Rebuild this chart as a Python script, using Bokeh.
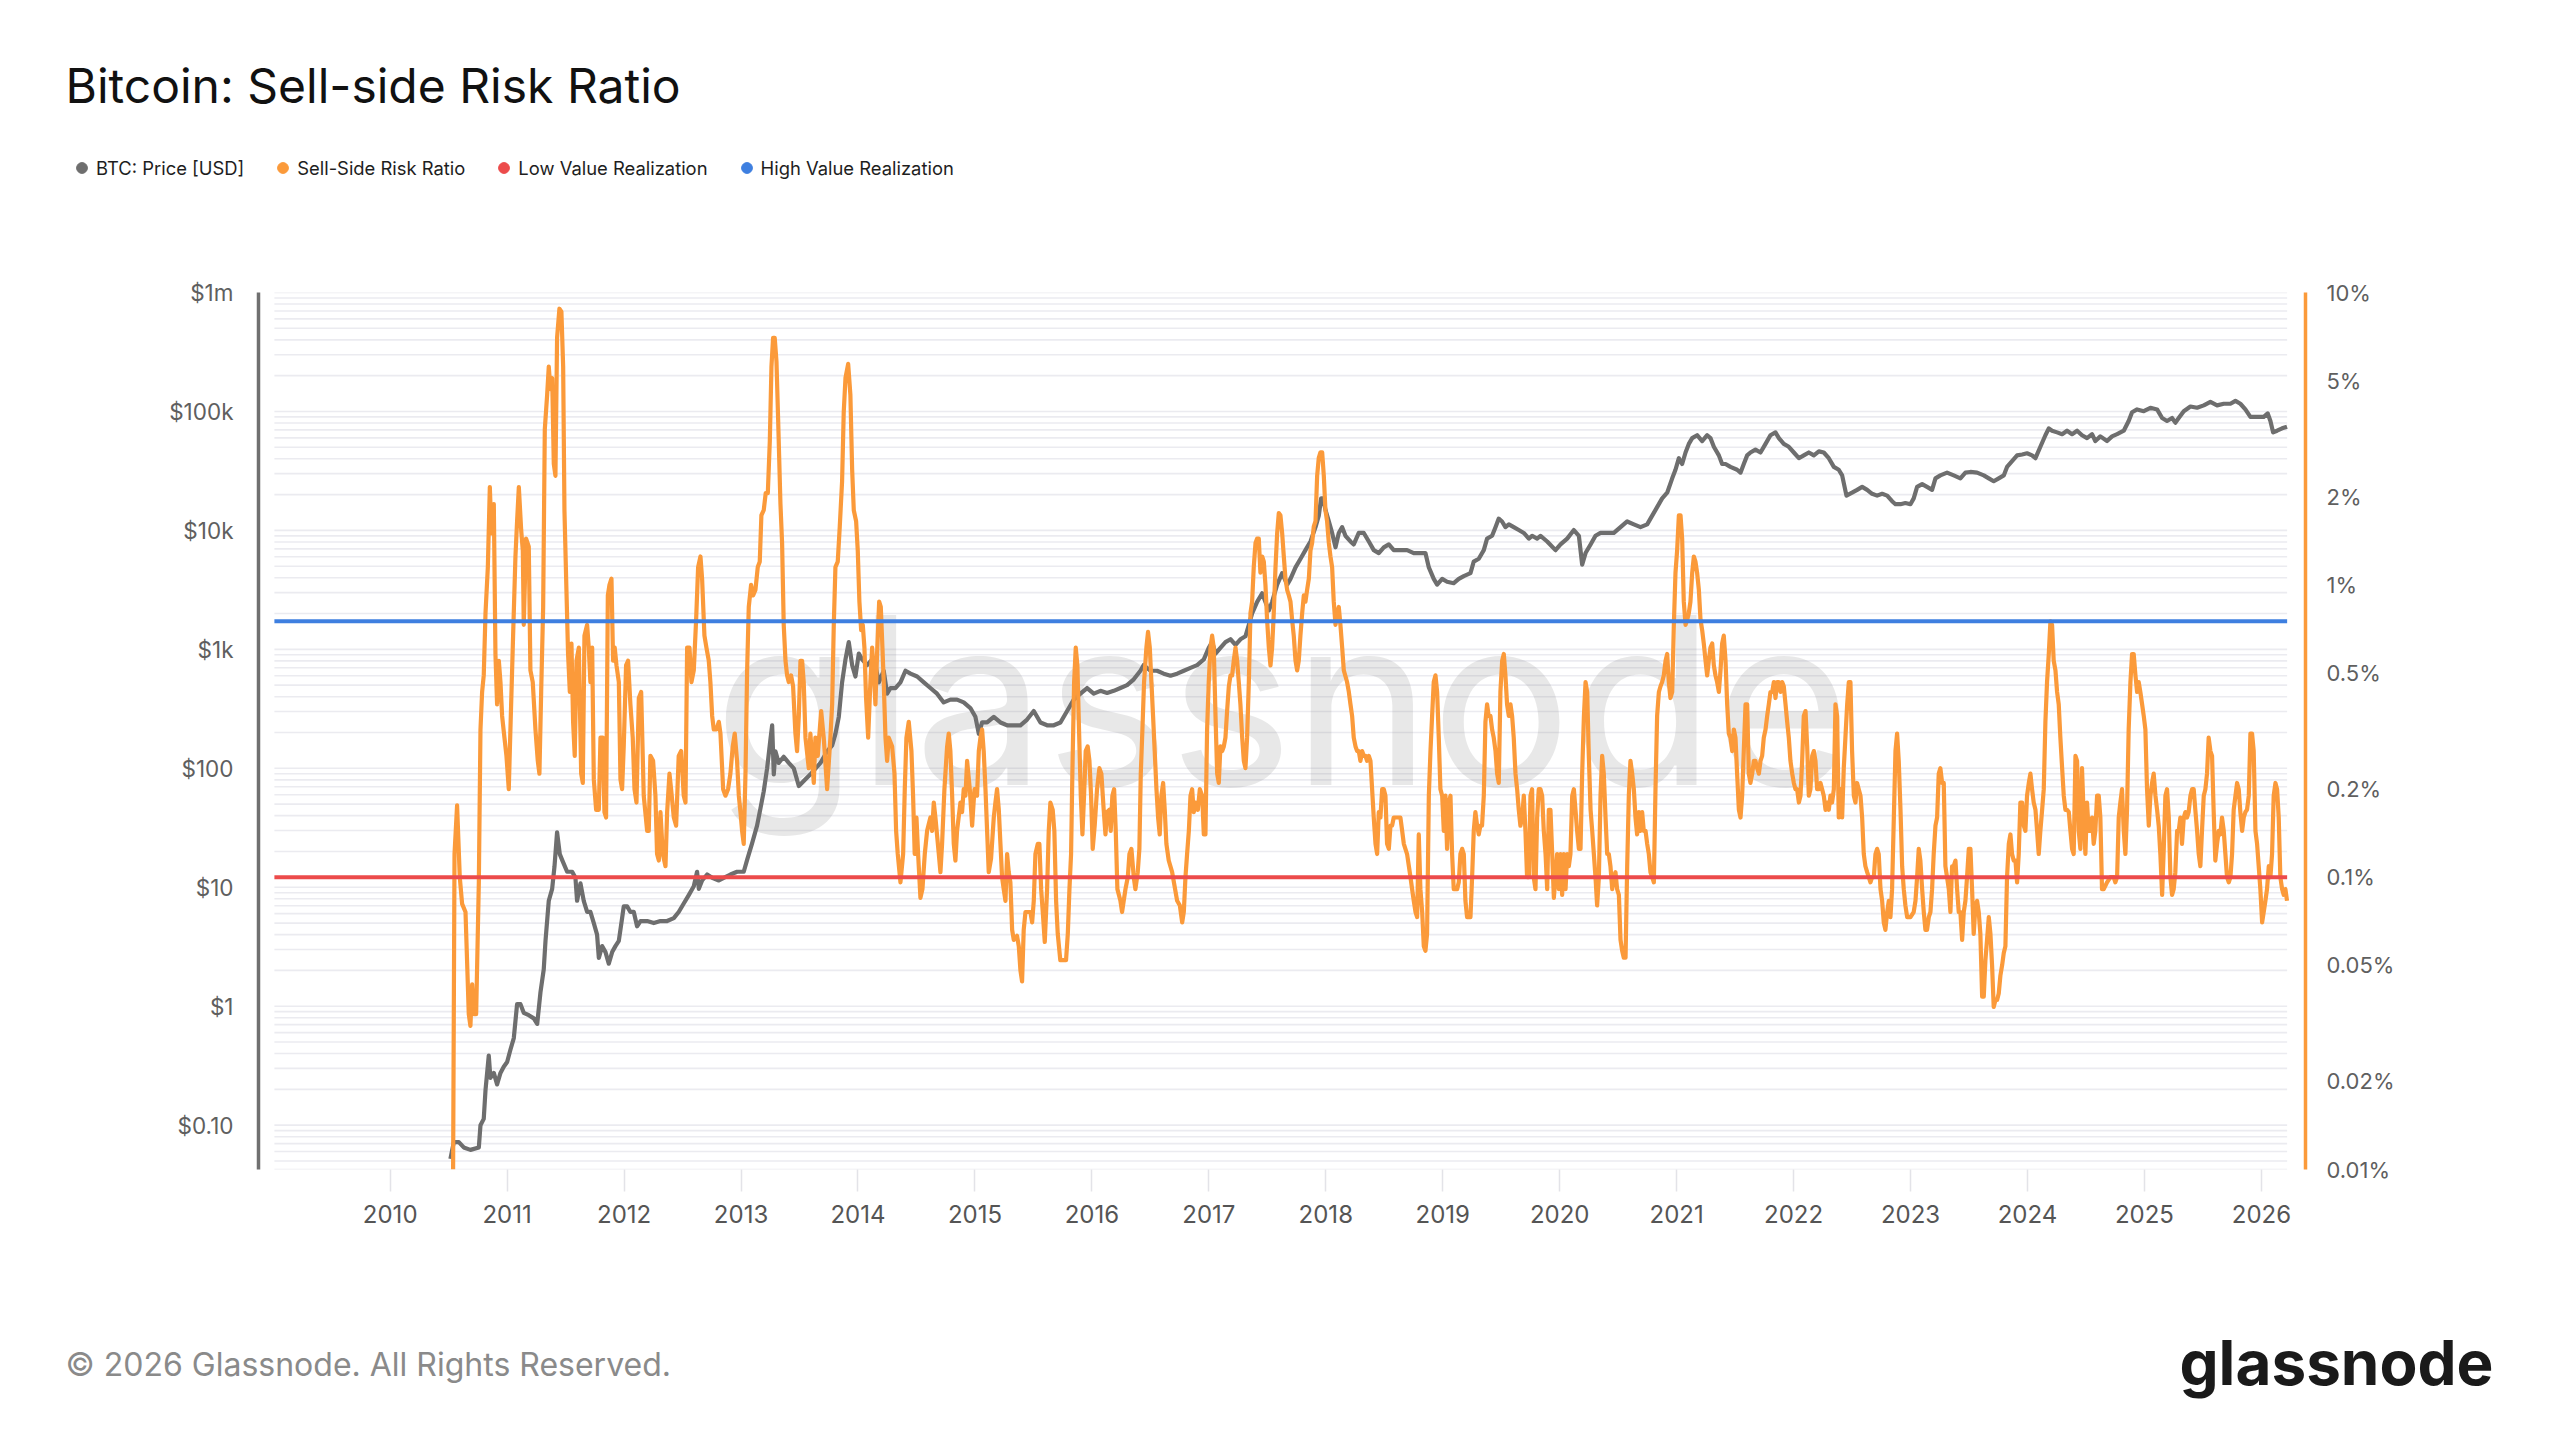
from bokeh.plotting import figure
from bokeh.layouts import column
from bokeh.models import Range1d, LogAxis, LogScale, FixedTicker, Legend, LegendItem
from bokeh.core.properties import value
from bokeh.embed import file_html
from bokeh.resources import INLINE

# ---------------- data ----------------
TITLE = "Bitcoin: Sell-side Risk Ratio"
FOOTER = "\u00a9 2026 Glassnode. All Rights Reserved."
BRAND = "glassnode"
SERIES_NAMES = ["BTC: Price [USD]", "Sell-Side Risk Ratio", "Low Value Realization", "High Value Realization"]
YEARS = list(range(2010, 2027))
PRICE_TICKS = [0.1, 1, 10, 100, 1000, 10000, 100000, 1000000]
PRICE_LABELS = ["$0.10", "$1", "$10", "$100", "$1k", "$10k", "$100k", "$1m"]
SSR_TICKS = [0.01, 0.02, 0.05, 0.1, 0.2, 0.5, 1, 2, 5, 10]
SSR_LABELS = ["0.01%", "0.02%", "0.05%", "0.1%", "0.2%", "0.5%", "1%", "2%", "5%", "10%"]
LOW_VALUE_REALIZATION = 0.1    # percent
HIGH_VALUE_REALIZATION = 0.75  # percent
DATE_SPAN = [2009.01, 2026.22]  # decimal years covered by the chart

PRICE_DATES = [
    2010.515, 2010.544, 2010.587, 2010.629, 2010.686, 2010.758, 2010.772, 2010.800, 2010.815, 2010.843,
    2010.857, 2010.886, 2010.914, 2010.943, 2010.971, 2011.000, 2011.028, 2011.057, 2011.085, 2011.114,
    2011.142, 2011.185, 2011.228, 2011.257, 2011.285, 2011.313, 2011.328, 2011.356, 2011.385, 2011.405,
    2011.427, 2011.450, 2011.470, 2011.513, 2011.556, 2011.584, 2011.598, 2011.627, 2011.655, 2011.684,
    2011.712, 2011.741, 2011.769, 2011.784, 2011.812, 2011.841, 2011.869, 2011.898, 2011.926, 2011.955,
    2011.983, 2011.997, 2012.026, 2012.054, 2012.083, 2012.111, 2012.140, 2012.197, 2012.254, 2012.311,
    2012.368, 2012.425, 2012.467, 2012.510, 2012.553, 2012.596, 2012.624, 2012.639, 2012.667, 2012.710,
    2012.753, 2012.810, 2012.852, 2012.909, 2012.966, 2013.023, 2013.052, 2013.095, 2013.137, 2013.166,
    2013.194, 2013.223, 2013.251, 2013.266, 2013.280, 2013.294, 2013.322, 2013.365, 2013.408, 2013.451,
    2013.494, 2013.593, 2013.679, 2013.736, 2013.779, 2013.807, 2013.836, 2013.864, 2013.893, 2013.921,
    2013.950, 2013.978, 2014.007, 2014.035, 2014.078, 2014.121, 2014.149, 2014.178, 2014.220, 2014.249,
    2014.278, 2014.320, 2014.363, 2014.406, 2014.449, 2014.506, 2014.563, 2014.619, 2014.676, 2014.733,
    2014.790, 2014.847, 2014.904, 2014.961, 2015.004, 2015.033, 2015.061, 2015.104, 2015.161, 2015.218,
    2015.275, 2015.332, 2015.389, 2015.446, 2015.503, 2015.560, 2015.617, 2015.674, 2015.731, 2015.788,
    2015.845, 2015.902, 2015.959, 2016.016, 2016.073, 2016.130, 2016.187, 2016.244, 2016.301, 2016.358,
    2016.415, 2016.443, 2016.500, 2016.557, 2016.614, 2016.672, 2016.729, 2016.786, 2016.843, 2016.900,
    2016.957, 2016.999, 2017.028, 2017.057, 2017.099, 2017.142, 2017.185, 2017.228, 2017.270, 2017.313,
    2017.342, 2017.370, 2017.413, 2017.456, 2017.484, 2017.513, 2017.541, 2017.584, 2017.627, 2017.670,
    2017.698, 2017.741, 2017.784, 2017.826, 2017.869, 2017.912, 2017.940, 2017.960, 2017.977, 2017.997,
    2018.026, 2018.054, 2018.083, 2018.111, 2018.140, 2018.168, 2018.211, 2018.239, 2018.282, 2018.325,
    2018.368, 2018.410, 2018.453, 2018.496, 2018.539, 2018.581, 2018.638, 2018.695, 2018.752, 2018.852,
    2018.881, 2018.923, 2018.952, 2018.995, 2019.037, 2019.094, 2019.137, 2019.180, 2019.237, 2019.265,
    2019.308, 2019.351, 2019.379, 2019.422, 2019.451, 2019.479, 2019.507, 2019.536, 2019.565, 2019.607,
    2019.650, 2019.693, 2019.736, 2019.764, 2019.807, 2019.836, 2019.893, 2019.964, 2020.007, 2020.064,
    2020.121, 2020.164, 2020.192, 2020.221, 2020.264, 2020.306, 2020.349, 2020.406, 2020.463, 2020.520,
    2020.577, 2020.634, 2020.691, 2020.748, 2020.791, 2020.833, 2020.876, 2020.919, 2020.962, 2020.990,
    2021.019, 2021.047, 2021.076, 2021.104, 2021.133, 2021.175, 2021.218, 2021.261, 2021.289, 2021.318,
    2021.361, 2021.389, 2021.418, 2021.460, 2021.517, 2021.546, 2021.574, 2021.603, 2021.631, 2021.674,
    2021.717, 2021.760, 2021.802, 2021.845, 2021.874, 2021.916, 2021.959, 2022.002, 2022.045, 2022.087,
    2022.130, 2022.173, 2022.216, 2022.258, 2022.301, 2022.344, 2022.386, 2022.415, 2022.452, 2022.500,
    2022.543, 2022.586, 2022.629, 2022.671, 2022.714, 2022.757, 2022.800, 2022.842, 2022.871, 2022.914,
    2022.956, 2022.999, 2023.027, 2023.056, 2023.099, 2023.141, 2023.184, 2023.213, 2023.255, 2023.312,
    2023.369, 2023.426, 2023.469, 2023.512, 2023.569, 2023.626, 2023.669, 2023.711, 2023.754, 2023.797,
    2023.825, 2023.868, 2023.911, 2023.954, 2023.996, 2024.039, 2024.068, 2024.110, 2024.153, 2024.182,
    2024.210, 2024.253, 2024.296, 2024.338, 2024.381, 2024.424, 2024.466, 2024.509, 2024.552, 2024.580,
    2024.623, 2024.680, 2024.723, 2024.766, 2024.823, 2024.865, 2024.894, 2024.937, 2024.994, 2025.051,
    2025.108, 2025.151, 2025.193, 2025.236, 2025.264, 2025.293, 2025.336, 2025.393, 2025.450, 2025.507,
    2025.564, 2025.621, 2025.678, 2025.735, 2025.778, 2025.820, 2025.863, 2025.906, 2025.963, 2026.020,
    2026.054, 2026.077, 2026.100, 2026.134, 2026.177, 2026.219,
]
PRICE_USD = [
    0.052, 0.072, 0.072, 0.065, 0.062, 0.065, 0.10, 0.113, 0.197, 0.385,
    0.25, 0.275, 0.22, 0.275, 0.31, 0.34, 0.43, 0.54, 1.04, 1.04,
    0.88, 0.84, 0.79, 0.71, 1.31, 2.04, 3.55, 7.7, 9.7, 15,
    29, 19, 17, 13.5, 13.5, 12, 7.7, 10.8, 7.7, 6.2,
    6.2, 5.0, 4.0, 2.55, 3.2, 2.85, 2.28, 2.85, 3.2, 3.55,
    5.5, 6.9, 6.9, 6.2, 6.2, 4.7, 5.2, 5.2, 5.0, 5.2,
    5.2, 5.5, 6.2, 7.3, 8.6, 10.2, 13.5, 9.7, 11.4, 12.8,
    12, 11.4, 12, 12.8, 13.5, 13.5, 17, 23.5, 33, 46,
    64, 100, 174, 230, 89, 139, 111, 125, 111, 100,
    71, 89, 111, 139, 156, 195, 271, 528, 824, 1150,
    738, 591, 922, 824, 738, 824, 738, 528, 661, 424,
    473, 473, 528, 661, 625, 591, 528, 473, 424, 358,
    378, 378, 358, 321, 271, 195, 243, 243, 271, 243,
    230, 230, 230, 257, 303, 243, 230, 230, 243, 303,
    378, 424, 473, 424, 448, 430, 448, 473, 500, 560,
    661, 738, 661, 661, 625, 600, 625, 661, 698, 738,
    824, 1030, 1150, 922, 1030, 1150, 1216, 1089, 1216, 1288,
    1607, 2009, 2506, 2963, 2506, 2124, 2506, 3500, 4375, 3500,
    3911, 4886, 5775, 6823, 8070, 10650, 13300, 18580, 18580, 14860,
    11890, 9520, 7210, 9520, 10650, 9010, 8070, 7620, 9520, 9520,
    8070, 6823, 6450, 7210, 7620, 6823, 6823, 6823, 6450, 6450,
    4886, 3911, 3500, 3911, 3700, 3600, 3911, 4130, 4375, 5460,
    5775, 6823, 8530, 9010, 10650, 12570, 11890, 10650, 11250, 10650,
    10070, 9520, 8530, 9010, 8530, 9000, 8070, 6823, 7620, 8530,
    10070, 9010, 5160, 6450, 7620, 9010, 9520, 9520, 9520, 10650,
    11890, 11250, 10650, 11250, 13300, 15700, 18580, 20750, 27400, 32360,
    40460, 36150, 45190, 53350, 59700, 63100, 56400, 63100, 59700, 50470,
    42730, 36150, 36150, 34200, 32360, 30600, 36150, 42730, 45190, 47770,
    45190, 53350, 63100, 66700, 59700, 53350, 50470, 45190, 40460, 42730,
    45190, 42730, 46200, 45190, 40460, 34200, 32360, 29000, 19600, 20750,
    21900, 23200, 21900, 20300, 19600, 20300, 19600, 17600, 16600, 16600,
    17000, 16600, 18580, 23200, 24500, 23200, 21900, 27400, 29000, 30600,
    29000, 27400, 30600, 31000, 30600, 29000, 27400, 25900, 27400, 29000,
    34200, 38200, 42730, 43500, 44500, 42730, 40460, 50470, 63100, 72100,
    68900, 66700, 64400, 68900, 64400, 68900, 63100, 59700, 64400, 56400,
    61700, 56400, 61700, 64400, 68900, 83200, 98400, 104000, 100500, 107400,
    104000, 88100, 83200, 88100, 80500, 88100, 100500, 110000, 107400, 112500,
    120300, 112500, 116100, 116100, 122800, 116100, 104000, 90000, 90000, 90000,
    96200, 83200, 66700, 68900, 72100, 74500,
]

SSR_DATES = [
    2010.538, 2010.550, 2010.572, 2010.595, 2010.615, 2010.644, 2010.672, 2010.686, 2010.701, 2010.715,
    2010.735, 2010.758, 2010.772, 2010.786, 2010.800, 2010.815, 2010.835, 2010.852, 2010.866, 2010.886,
    2010.900, 2010.914, 2010.929, 2010.943, 2010.957, 2010.977, 2010.994, 2011.014, 2011.028, 2011.051,
    2011.071, 2011.085, 2011.100, 2011.120, 2011.134, 2011.142, 2011.162, 2011.185, 2011.199, 2011.219,
    2011.242, 2011.262, 2011.276, 2011.291, 2011.308, 2011.322, 2011.342, 2011.356, 2011.370, 2011.385,
    2011.399, 2011.413, 2011.427, 2011.447, 2011.464, 2011.479, 2011.490, 2011.507, 2011.521, 2011.536,
    2011.550, 2011.564, 2011.578, 2011.593, 2011.613, 2011.633, 2011.647, 2011.661, 2011.684, 2011.698,
    2011.712, 2011.727, 2011.741, 2011.761, 2011.784, 2011.798, 2011.818, 2011.832, 2011.846, 2011.861,
    2011.875, 2011.892, 2011.906, 2011.920, 2011.935, 2011.955, 2011.969, 2011.983, 2011.997, 2012.017,
    2012.034, 2012.054, 2012.074, 2012.089, 2012.106, 2012.126, 2012.146, 2012.168, 2012.197, 2012.211,
    2012.225, 2012.248, 2012.268, 2012.282, 2012.297, 2012.311, 2012.331, 2012.354, 2012.368, 2012.388,
    2012.402, 2012.425, 2012.445, 2012.467, 2012.488, 2012.510, 2012.525, 2012.539, 2012.559, 2012.576,
    2012.596, 2012.616, 2012.633, 2012.653, 2012.667, 2012.687, 2012.704, 2012.724, 2012.738, 2012.753,
    2012.767, 2012.790, 2012.810, 2012.824, 2012.847, 2012.867, 2012.889, 2012.909, 2012.929, 2012.946,
    2012.966, 2012.981, 2012.995, 2013.009, 2013.023, 2013.038, 2013.052, 2013.066, 2013.086, 2013.103,
    2013.123, 2013.143, 2013.160, 2013.174, 2013.194, 2013.211, 2013.229, 2013.246, 2013.260, 2013.274,
    2013.288, 2013.303, 2013.317, 2013.337, 2013.351, 2013.365, 2013.380, 2013.394, 2013.408, 2013.428,
    2013.445, 2013.465, 2013.479, 2013.494, 2013.508, 2013.522, 2013.536,
    2013.551, 2013.579, 2013.593, 2013.622, 2013.636, 2013.656, 2013.685, 2013.707, 2013.736, 2013.764,
    2013.779, 2013.793, 2013.807, 2013.827, 2013.844, 2013.864, 2013.878, 2013.893, 2013.916, 2013.935,
    2013.950, 2013.964, 2013.984, 2013.998, 2014.012, 2014.027, 2014.041, 2014.055, 2014.069, 2014.087,
    2014.106, 2014.121, 2014.135, 2014.149, 2014.163, 2014.181, 2014.195, 2014.209, 2014.220, 2014.235,
    2014.249, 2014.263, 2014.292, 2014.312, 2014.326, 2014.340, 2014.363, 2014.386, 2014.400, 2014.414,
    2014.434, 2014.457, 2014.471, 2014.485, 2014.500, 2014.514, 2014.534, 2014.551, 2014.571, 2014.591,
    2014.619, 2014.634, 2014.648, 2014.662, 2014.691, 2014.705, 2014.719, 2014.739, 2014.762, 2014.776,
    2014.790, 2014.805, 2014.819, 2014.833, 2014.847, 2014.876, 2014.890, 2014.904, 2014.919, 2014.933,
    2014.956, 2014.976, 2014.996, 2015.018, 2015.033, 2015.047, 2015.061, 2015.075, 2015.090, 2015.104,
    2015.118, 2015.138, 2015.161, 2015.175, 2015.189, 2015.204, 2015.218, 2015.232, 2015.246, 2015.261,
    2015.275, 2015.289, 2015.303, 2015.318, 2015.332, 2015.360, 2015.375, 2015.389, 2015.403, 2015.417,
    2015.432, 2015.474, 2015.489, 2015.503, 2015.517, 2015.537, 2015.551, 2015.566, 2015.580, 2015.597,
    2015.617, 2015.631, 2015.645, 2015.665, 2015.679, 2015.694, 2015.708, 2015.730, 2015.779, 2015.794,
    2015.808, 2015.822, 2015.833, 2015.848, 2015.862, 2015.876, 2015.890, 2015.905, 2015.919, 2015.933,
    2015.947, 2015.964, 2015.979, 2015.993, 2016.007, 2016.024, 2016.044, 2016.064, 2016.081, 2016.101,
    2016.116, 2016.130, 2016.150, 2016.161, 2016.175, 2016.190, 2016.204, 2016.218, 2016.244, 2016.258,
    2016.287, 2016.307, 2016.321, 2016.338, 2016.358, 2016.372, 2016.392, 2016.406, 2016.418, 2016.432,
    2016.446, 2016.466, 2016.480, 2016.495, 2016.509, 2016.523, 2016.537, 2016.552, 2016.566, 2016.580,
    2016.594, 2016.609, 2016.623, 2016.637, 2016.657, 2016.686,
    2016.729, 2016.752, 2016.772, 2016.786, 2016.800, 2016.814, 2016.829, 2016.843, 2016.857, 2016.871,
    2016.886, 2016.906, 2016.923, 2016.943, 2016.957, 2016.971, 2016.985, 2016.999, 2017.014, 2017.028,
    2017.042, 2017.057, 2017.071, 2017.085, 2017.099, 2017.114, 2017.128, 2017.142, 2017.156, 2017.171,
    2017.185, 2017.199, 2017.213, 2017.228, 2017.242, 2017.256, 2017.270, 2017.285, 2017.299, 2017.313,
    2017.327, 2017.342, 2017.356, 2017.370, 2017.384, 2017.399, 2017.413, 2017.427, 2017.441, 2017.456,
    2017.470, 2017.484, 2017.498, 2017.513, 2017.527, 2017.541, 2017.555, 2017.570, 2017.584, 2017.598,
    2017.612, 2017.627, 2017.641, 2017.655, 2017.670, 2017.684, 2017.698, 2017.712, 2017.726, 2017.741,
    2017.755, 2017.769, 2017.783, 2017.798, 2017.812, 2017.826, 2017.840, 2017.855, 2017.869, 2017.883,
    2017.897, 2017.912, 2017.926, 2017.940, 2017.954, 2017.969, 2017.983, 2017.997, 2018.011, 2018.026,
    2018.040, 2018.054, 2018.068, 2018.083, 2018.097, 2018.111, 2018.125, 2018.140, 2018.154, 2018.182,
    2018.197, 2018.211, 2018.225, 2018.239, 2018.254, 2018.268, 2018.282, 2018.296, 2018.311, 2018.325,
    2018.339, 2018.353, 2018.368, 2018.382, 2018.396, 2018.410, 2018.425, 2018.439, 2018.453, 2018.467,
    2018.482, 2018.496, 2018.510, 2018.524, 2018.539, 2018.553, 2018.567, 2018.581, 2018.596, 2018.610,
    2018.624, 2018.638, 2018.653, 2018.667, 2018.695, 2018.724, 2018.738, 2018.752, 2018.767, 2018.781,
    2018.795, 2018.809, 2018.824, 2018.838, 2018.852, 2018.866, 2018.881, 2018.895, 2018.909, 2018.923,
    2018.938, 2018.952, 2018.966, 2018.980, 2018.995, 2019.009, 2019.023, 2019.037, 2019.052, 2019.066,
    2019.080, 2019.094, 2019.123, 2019.137, 2019.151, 2019.166, 2019.180, 2019.194, 2019.208, 2019.237,
    2019.251, 2019.265, 2019.279, 2019.294, 2019.308, 2019.322, 2019.336, 2019.351, 2019.365, 2019.379,
    2019.393, 2019.408, 2019.422, 2019.436, 2019.451, 2019.465, 2019.479, 2019.493, 2019.508, 2019.522,
    2019.536, 2019.550, 2019.565, 2019.579, 2019.593, 2019.607, 2019.622, 2019.636, 2019.650, 2019.664,
    2019.679, 2019.693, 2019.707, 2019.721, 2019.736, 2019.750, 2019.764, 2019.778, 2019.793, 2019.807,
    2019.821, 2019.835,
    2019.850, 2019.864, 2019.879, 2019.893, 2019.907, 2019.921, 2019.936, 2019.950, 2019.964, 2019.978,
    2019.993, 2020.007, 2020.021, 2020.035, 2020.050, 2020.064, 2020.078, 2020.092, 2020.107, 2020.121,
    2020.135, 2020.149, 2020.164, 2020.178, 2020.192, 2020.207, 2020.221, 2020.235, 2020.249, 2020.264,
    2020.278, 2020.292, 2020.306, 2020.320, 2020.335, 2020.349, 2020.363, 2020.377, 2020.392, 2020.406,
    2020.420, 2020.434, 2020.449, 2020.463, 2020.477, 2020.491, 2020.506, 2020.520, 2020.534, 2020.548,
    2020.563, 2020.577, 2020.591, 2020.605, 2020.620, 2020.634, 2020.648, 2020.662, 2020.677, 2020.691,
    2020.705, 2020.719, 2020.734, 2020.748, 2020.762, 2020.776, 2020.791, 2020.805, 2020.819, 2020.833,
    2020.848, 2020.862, 2020.876, 2020.890, 2020.905, 2020.919, 2020.933, 2020.947, 2020.962, 2020.976,
    2020.990, 2021.004, 2021.019, 2021.033, 2021.047, 2021.061, 2021.076, 2021.090, 2021.104, 2021.118,
    2021.133, 2021.147, 2021.161, 2021.175, 2021.190, 2021.204, 2021.218, 2021.232, 2021.247, 2021.261,
    2021.275, 2021.289, 2021.304, 2021.318, 2021.332, 2021.346, 2021.361, 2021.375, 2021.389, 2021.403,
    2021.418, 2021.432, 2021.446, 2021.460, 2021.475, 2021.489, 2021.503, 2021.517, 2021.532, 2021.546,
    2021.560, 2021.574, 2021.589, 2021.603, 2021.617, 2021.631, 2021.646, 2021.660, 2021.674, 2021.688,
    2021.703, 2021.717, 2021.731, 2021.745, 2021.760, 2021.774, 2021.788, 2021.802, 2021.817, 2021.831,
    2021.845, 2021.859, 2021.874, 2021.888, 2021.902, 2021.916, 2021.931, 2021.945, 2021.959, 2021.973,
    2021.988, 2022.002, 2022.016, 2022.030, 2022.045, 2022.059, 2022.073, 2022.087, 2022.102, 2022.116,
    2022.130, 2022.144, 2022.159, 2022.173, 2022.187, 2022.201, 2022.216, 2022.230, 2022.244, 2022.258,
    2022.273, 2022.287, 2022.301, 2022.315, 2022.329, 2022.344, 2022.358, 2022.372, 2022.386, 2022.401,
    2022.415, 2022.429, 2022.443, 2022.458, 2022.472, 2022.486, 2022.500, 2022.515, 2022.529, 2022.543,
    2022.557, 2022.572, 2022.586, 2022.600, 2022.614, 2022.629, 2022.643, 2022.657, 2022.671, 2022.686,
    2022.700, 2022.714, 2022.728, 2022.743, 2022.757, 2022.771, 2022.785, 2022.800, 2022.814, 2022.828,
    2022.842, 2022.857, 2022.871, 2022.885, 2022.899, 2022.914, 2022.928, 2022.942, 2022.956, 2022.971,
    2022.985,
    2022.999, 2023.027, 2023.042, 2023.056, 2023.070, 2023.084, 2023.099, 2023.113, 2023.127, 2023.141,
    2023.156, 2023.170, 2023.184, 2023.198, 2023.213, 2023.227, 2023.241, 2023.255, 2023.270, 2023.284,
    2023.298, 2023.312, 2023.327, 2023.341, 2023.355, 2023.369, 2023.384, 2023.398, 2023.412, 2023.426,
    2023.441, 2023.455, 2023.469, 2023.483, 2023.498, 2023.512, 2023.526, 2023.540, 2023.555, 2023.569,
    2023.583, 2023.597, 2023.612, 2023.626, 2023.640, 2023.654, 2023.669, 2023.683, 2023.697, 2023.711,
    2023.726, 2023.740, 2023.754, 2023.768, 2023.783, 2023.797, 2023.811, 2023.825, 2023.840, 2023.854,
    2023.868, 2023.882, 2023.897, 2023.911, 2023.925, 2023.939, 2023.954, 2023.968, 2023.982, 2023.996,
    2024.011, 2024.025, 2024.039, 2024.053, 2024.068, 2024.082, 2024.096, 2024.110, 2024.125, 2024.139,
    2024.153, 2024.167, 2024.182, 2024.196, 2024.210, 2024.224, 2024.239, 2024.253, 2024.267, 2024.281,
    2024.296, 2024.310, 2024.324, 2024.338, 2024.353, 2024.367, 2024.381, 2024.395, 2024.410, 2024.424,
    2024.438, 2024.452, 2024.466, 2024.481, 2024.495, 2024.509, 2024.523, 2024.538, 2024.552, 2024.566,
    2024.580, 2024.595, 2024.609, 2024.623, 2024.637, 2024.652, 2024.680, 2024.709, 2024.737, 2024.751,
    2024.766, 2024.780, 2024.794, 2024.808, 2024.823, 2024.837, 2024.851, 2024.865, 2024.880, 2024.894,
    2024.908, 2024.923, 2024.937, 2024.951, 2024.965, 2024.980, 2024.994, 2025.008, 2025.022, 2025.037,
    2025.051, 2025.065, 2025.079, 2025.094, 2025.108, 2025.122, 2025.136, 2025.151, 2025.165, 2025.179,
    2025.193, 2025.208, 2025.222, 2025.236, 2025.250, 2025.264, 2025.279, 2025.293, 2025.307, 2025.321,
    2025.336, 2025.350, 2025.364, 2025.378, 2025.393, 2025.407, 2025.421, 2025.435, 2025.450, 2025.464,
    2025.478, 2025.492, 2025.507, 2025.521, 2025.535, 2025.549, 2025.564, 2025.578, 2025.592, 2025.606,
    2025.621, 2025.635, 2025.649, 2025.663, 2025.678, 2025.692, 2025.706, 2025.721, 2025.735, 2025.749,
    2025.763, 2025.778, 2025.792, 2025.806, 2025.820, 2025.835, 2025.849, 2025.863, 2025.877, 2025.892,
    2025.906, 2025.920, 2025.934, 2025.949, 2025.963, 2025.977, 2025.991, 2026.006, 2026.020, 2026.034,
    2026.048, 2026.063, 2026.077, 2026.091, 2026.105, 2026.120, 2026.134, 2026.148, 2026.162, 2026.177,
    2026.191, 2026.205, 2026.219,
]
SSR_PCT = [
    0.010, 0.12, 0.176, 0.100, 0.081, 0.076, 0.034, 0.031, 0.043, 0.034,
    0.034, 0.096, 0.32, 0.43, 0.49, 0.80, 1.15, 2.16, 1.50, 1.89,
    0.58, 0.39, 0.55, 0.465, 0.356, 0.30, 0.26, 0.20, 0.32, 0.67,
    1.25, 1.65, 2.16, 1.54, 1.31, 0.73, 1.44, 1.35, 0.51, 0.465,
    0.32, 0.25, 0.226, 0.43, 0.84, 3.40, 4.46, 5.58, 4.67, 5.10,
    2.59, 2.36, 7.0, 8.8, 8.6, 5.58, 1.80, 0.96, 0.58, 0.43,
    0.63, 0.34, 0.26, 0.55, 0.61, 0.226, 0.21, 0.67, 0.73, 0.61,
    0.465, 0.61, 0.216, 0.17, 0.17, 0.30, 0.30, 0.167, 0.16, 0.92,
    1.0, 1.05, 0.55, 0.61, 0.53, 0.465, 0.216, 0.20, 0.28, 0.53,
    0.55, 0.39, 0.30, 0.20, 0.18, 0.41, 0.43, 0.19, 0.144, 0.144,
    0.26, 0.25, 0.19, 0.12, 0.114, 0.167, 0.12, 0.109, 0.167, 0.226,
    0.20, 0.16, 0.15, 0.26, 0.27, 0.19, 0.18, 0.61, 0.61, 0.465,
    0.51, 0.76, 1.15, 1.25, 1.05, 0.67, 0.61, 0.55, 0.465, 0.356,
    0.32, 0.32, 0.34, 0.31, 0.20, 0.19, 0.20, 0.226, 0.28, 0.31,
    0.25, 0.19, 0.167, 0.144, 0.13, 0.226, 0.51, 0.84, 1.0, 0.92,
    0.96, 1.15, 1.2, 1.73, 1.80, 2.06, 2.06, 3.1, 5.58, 7.0,
    7.0, 5.8, 3.7, 1.89, 1.39, 0.73, 0.55, 0.49, 0.465, 0.49,
    0.45, 0.31, 0.27, 0.356, 0.55, 0.55, 0.465,
    0.30, 0.236, 0.31, 0.21, 0.30, 0.26, 0.37, 0.30, 0.20, 0.30,
    0.39, 0.73, 1.15, 1.2, 1.58, 2.26, 3.89, 5.1, 5.7, 4.46,
    2.48, 1.80, 1.65, 1.31, 0.876, 0.70, 0.73, 0.61, 0.41, 0.30,
    0.465, 0.61, 0.51, 0.39, 0.58, 0.876, 0.84, 0.61, 0.465, 0.30,
    0.25, 0.30, 0.28, 0.226, 0.144, 0.12, 0.096, 0.12, 0.20, 0.30,
    0.34, 0.27, 0.19, 0.12, 0.16, 0.12, 0.085, 0.091, 0.12, 0.144,
    0.16, 0.144, 0.18, 0.16, 0.12, 0.104, 0.13, 0.20, 0.28, 0.31,
    0.27, 0.19, 0.13, 0.114, 0.144, 0.18, 0.167, 0.20, 0.19, 0.25,
    0.20, 0.15, 0.20, 0.19, 0.27, 0.30, 0.32, 0.27, 0.20, 0.144,
    0.104, 0.116, 0.16, 0.18, 0.20, 0.17, 0.13, 0.10, 0.091, 0.083,
    0.12, 0.104, 0.096, 0.066, 0.061, 0.063, 0.058, 0.048, 0.044, 0.066,
    0.076, 0.076, 0.070, 0.083, 0.12, 0.13, 0.13, 0.091, 0.076, 0.060,
    0.091, 0.144, 0.18, 0.17, 0.144, 0.083, 0.064, 0.052, 0.052, 0.064,
    0.091, 0.12, 0.226, 0.465, 0.61, 0.53, 0.32, 0.19, 0.14, 0.19,
    0.27, 0.28, 0.25, 0.19, 0.125, 0.15, 0.20, 0.236, 0.226, 0.17,
    0.14, 0.167, 0.17, 0.144, 0.19, 0.20, 0.144, 0.091, 0.083, 0.076,
    0.091, 0.10, 0.12, 0.125, 0.10, 0.091, 0.104, 0.125, 0.226, 0.32,
    0.465, 0.61, 0.69, 0.61, 0.465, 0.356, 0.27, 0.20, 0.16, 0.14,
    0.19, 0.21, 0.17, 0.13, 0.114, 0.104,
    0.083, 0.08, 0.070, 0.076, 0.10, 0.12, 0.144, 0.19, 0.20, 0.167,
    0.18, 0.17, 0.20, 0.19, 0.14, 0.14, 0.32, 0.465, 0.61, 0.67,
    0.61, 0.356, 0.226, 0.21, 0.28, 0.27, 0.28, 0.30, 0.37, 0.45,
    0.49, 0.49, 0.55, 0.61, 0.55, 0.465, 0.39, 0.30, 0.25, 0.236,
    0.30, 0.465, 0.80, 0.876, 1.15, 1.39, 1.44, 1.44, 1.10, 1.25,
    1.2, 1.0, 0.76, 0.61, 0.53, 0.61, 0.80, 1.15, 1.5, 1.76,
    1.73, 1.5, 1.25, 1.05, 0.96, 0.92, 0.876, 0.76, 0.67, 0.55,
    0.51, 0.55, 0.67, 0.80, 0.92, 0.876, 0.96, 1.05, 1.31, 1.39,
    1.58, 1.65, 2.36, 2.72, 2.84, 2.84, 2.36, 1.80, 1.65, 1.39,
    1.25, 1.15, 0.876, 0.73, 0.80, 0.84, 0.73, 0.61, 0.51, 0.465,
    0.43, 0.39, 0.356, 0.30, 0.28, 0.27, 0.27, 0.25, 0.27, 0.26,
    0.26, 0.25, 0.26, 0.25, 0.20, 0.16, 0.13, 0.12, 0.167, 0.16,
    0.20, 0.20, 0.19, 0.13, 0.125, 0.15, 0.15, 0.16, 0.16, 0.16,
    0.16, 0.16, 0.144, 0.13, 0.12, 0.10, 0.091, 0.083, 0.076, 0.073,
    0.14, 0.091, 0.076, 0.058, 0.056, 0.064, 0.19, 0.27, 0.356, 0.465,
    0.49, 0.43, 0.30, 0.20, 0.19, 0.144, 0.19, 0.125, 0.18, 0.19,
    0.12, 0.091, 0.091, 0.096, 0.12, 0.125, 0.12, 0.083, 0.073, 0.073,
    0.10, 0.144, 0.167, 0.15, 0.14, 0.15, 0.15, 0.19, 0.34, 0.39,
    0.356, 0.356, 0.32, 0.30, 0.27, 0.226, 0.21, 0.43, 0.55, 0.58,
    0.49, 0.39, 0.356, 0.39, 0.356, 0.30, 0.226, 0.20, 0.17, 0.15,
    0.16, 0.19, 0.144, 0.10, 0.10, 0.19, 0.20, 0.10, 0.091, 0.16,
    0.20, 0.20,
    0.19, 0.144, 0.12, 0.091, 0.17, 0.17, 0.12, 0.085, 0.10, 0.12,
    0.091, 0.12, 0.087, 0.12, 0.091, 0.12, 0.109, 0.12, 0.19, 0.20,
    0.17, 0.144, 0.125, 0.125, 0.226, 0.356, 0.465, 0.43, 0.26, 0.17,
    0.144, 0.12, 0.10, 0.08, 0.10, 0.19, 0.26, 0.226, 0.16, 0.12,
    0.12, 0.109, 0.091, 0.10, 0.104, 0.091, 0.087, 0.061, 0.056, 0.053,
    0.053, 0.109, 0.19, 0.25, 0.226, 0.20, 0.16, 0.14, 0.167, 0.144,
    0.167, 0.144, 0.144, 0.13, 0.12, 0.104, 0.10, 0.096, 0.20, 0.356,
    0.43, 0.45, 0.465, 0.49, 0.55, 0.58, 0.465, 0.41, 0.43, 0.73,
    1.10, 1.31, 1.73, 1.73, 1.44, 0.876, 0.73, 0.76, 0.80, 0.876,
    1.10, 1.25, 1.2, 1.10, 0.96, 0.76, 0.70, 0.63, 0.55, 0.49,
    0.55, 0.61, 0.63, 0.53, 0.49, 0.465, 0.43, 0.51, 0.63, 0.67,
    0.55, 0.39, 0.31, 0.30, 0.27, 0.32, 0.30, 0.226, 0.17, 0.16,
    0.19, 0.27, 0.39, 0.39, 0.226, 0.21, 0.226, 0.25, 0.25, 0.236,
    0.226, 0.25, 0.26, 0.30, 0.32, 0.356, 0.39, 0.43, 0.43, 0.465,
    0.41, 0.465, 0.465, 0.43, 0.465, 0.45, 0.39, 0.34, 0.30, 0.25,
    0.226, 0.21, 0.20, 0.20, 0.18, 0.19, 0.25, 0.356, 0.37, 0.28,
    0.19, 0.20, 0.26, 0.27, 0.25, 0.20, 0.20, 0.21, 0.20, 0.19,
    0.17, 0.18, 0.17, 0.19, 0.18, 0.20, 0.39, 0.356, 0.16, 0.20,
    0.16, 0.236, 0.30, 0.39, 0.465, 0.465, 0.27, 0.19, 0.18, 0.21,
    0.20, 0.19, 0.16, 0.12, 0.109, 0.104, 0.10, 0.096, 0.10, 0.10,
    0.12, 0.125, 0.12, 0.091, 0.083, 0.070, 0.066, 0.076, 0.083, 0.073,
    0.091, 0.16, 0.27, 0.31, 0.25, 0.17, 0.109, 0.091, 0.08, 0.073,
    0.073,
    0.073, 0.076, 0.083, 0.10, 0.125, 0.114, 0.091, 0.076, 0.066, 0.066,
    0.073, 0.076, 0.091, 0.12, 0.15, 0.16, 0.226, 0.236, 0.21, 0.21,
    0.109, 0.10, 0.091, 0.076, 0.109, 0.109, 0.114, 0.091, 0.076, 0.076,
    0.061, 0.076, 0.083, 0.10, 0.125, 0.125, 0.091, 0.064, 0.08, 0.083,
    0.076, 0.064, 0.039, 0.039, 0.052, 0.061, 0.073, 0.064, 0.05, 0.036,
    0.038, 0.038, 0.040, 0.046, 0.05, 0.055, 0.058, 0.10, 0.13, 0.14,
    0.12, 0.114, 0.114, 0.096, 0.12, 0.18, 0.18, 0.15, 0.144, 0.19,
    0.21, 0.226, 0.20, 0.18, 0.17, 0.144, 0.12, 0.144, 0.17, 0.20,
    0.34, 0.465, 0.58, 0.75, 0.73, 0.55, 0.51, 0.43, 0.39, 0.30,
    0.236, 0.19, 0.17, 0.17, 0.167, 0.144, 0.125, 0.12, 0.26, 0.25,
    0.144, 0.125, 0.236, 0.16, 0.12, 0.18, 0.144, 0.144, 0.16, 0.13,
    0.144, 0.19, 0.19, 0.16, 0.091, 0.091, 0.096, 0.10, 0.10, 0.096,
    0.10, 0.16, 0.18, 0.20, 0.144, 0.12, 0.17, 0.32, 0.465, 0.58,
    0.58, 0.49, 0.43, 0.465, 0.43, 0.39, 0.356, 0.32, 0.20, 0.15,
    0.19, 0.21, 0.226, 0.19, 0.17, 0.15, 0.12, 0.087, 0.125, 0.19,
    0.20, 0.16, 0.10, 0.087, 0.091, 0.104, 0.144, 0.144, 0.16, 0.13,
    0.16, 0.167, 0.16, 0.167, 0.19, 0.20, 0.20, 0.17, 0.144, 0.12,
    0.109, 0.144, 0.19, 0.20, 0.226, 0.30, 0.27, 0.26, 0.167, 0.114,
    0.13, 0.144, 0.14, 0.16, 0.144, 0.12, 0.10, 0.096, 0.10, 0.12,
    0.17, 0.19, 0.21, 0.20, 0.167, 0.144, 0.16, 0.167, 0.17, 0.19,
    0.31, 0.31, 0.27, 0.144, 0.13, 0.109, 0.091, 0.070, 0.076, 0.083,
    0.091, 0.109, 0.10, 0.12, 0.19, 0.21, 0.20, 0.16, 0.10, 0.091,
    0.087, 0.091, 0.083,
]

# ---------------- styling ----------------
FONT = "Inter"
PRICE_COLOR = "#6e6e6e"
SSR_COLOR = "#fb9a3a"
LOW_COLOR = "#ec4b4b"
HIGH_COLOR = "#3e7fe0"
GRID_COLOR = "#ebebf0"
LABEL_COLOR = "#5f5f5f"
W = 2560
HEADER_H, MAIN_H, FOOTER_H = 200, 1090, 150

X_VIEW = (2008.874, 2026.377)
PRICE_VIEW = (0.0424, 1000000)
SSR_VIEW = (0.01, 10)


def blank(height):
    f = figure(width=W, height=height, x_range=Range1d(0, W), y_range=Range1d(height, 0),
               output_backend="svg", toolbar_location=None, min_border=0,
               min_border_left=0, min_border_right=0, min_border_top=0, min_border_bottom=0,
               x_axis_location=None, y_axis_location=None, outline_line_color=None,
               background_fill_color="white", border_fill_color="white")
    f.frame_align = False
    f.grid.visible = False
    return f


# ---------------- header: title + legend ----------------
header = blank(HEADER_H)
header.text(x=[65], y=[85], text=[TITLE], text_font=value(FONT), text_font_size="48px",
            text_color="#111111", text_baseline="alphabetic")
dots = []
for c in [PRICE_COLOR, SSR_COLOR, LOW_COLOR, HIGH_COLOR]:
    # off-canvas point: only its legend swatch is visible
    dots.append(header.scatter(x=[-500], y=[-500], marker="circle", size=11, fill_color=c, line_color=c))
legend = Legend(items=[LegendItem(label=n, renderers=[r]) for n, r in zip(SERIES_NAMES, dots)],
                orientation="horizontal", location=(68, 19),
                glyph_width=27, glyph_height=27, label_standoff=1, spacing=25,
                padding=0, margin=0, border_line_color=None, background_fill_alpha=0,
                label_text_font=FONT, label_text_font_size="18.4px", label_text_color="#1e1e1e")
header.add_layout(legend)

# ---------------- main chart ----------------
p = figure(width=W, height=MAIN_H, output_backend="svg", toolbar_location=None,
           x_range=Range1d(*X_VIEW), y_range=Range1d(*PRICE_VIEW), y_axis_type="log",
           min_border_left=258, min_border_right=255, min_border_top=92, min_border_bottom=121,
           background_fill_color="white", border_fill_color="white", outline_line_color=None)
p.frame_align = False
p.title.visible = False
p.xgrid.visible = False
p.ygrid.visible = False

# horizontal grid (log minor + major levels of the price axis)
grid_levels = [m * 10.0 ** k for k in range(-2, 7) for m in range(1, 10)]
grid_levels = [v for v in grid_levels if PRICE_VIEW[0] <= v <= PRICE_VIEW[1] * 1.0001]
grid_levels.append(PRICE_VIEW[0])
p.multi_line(xs=[DATE_SPAN] * len(grid_levels), ys=[[v, v] for v in grid_levels],
             line_color=GRID_COLOR, line_width=1.6)

# watermark (behind the series)
p.text(x=[2017.63], y=[380], text=[BRAND], text_font=value(FONT), text_font_size="234px",
       text_color="#808080", text_alpha=0.18, text_align="center", text_baseline="alphabetic")

# secondary axis for the ratio
p.extra_y_ranges = {"ssr": Range1d(*SSR_VIEW)}
p.extra_y_scales = {"ssr": LogScale()}

# series
p.line(PRICE_DATES, PRICE_USD, line_color=PRICE_COLOR, line_width=4.2, line_join="round")
p.line(SSR_DATES, SSR_PCT, y_range_name="ssr", line_color=SSR_COLOR, line_width=4.2, line_join="round")
p.line(DATE_SPAN, [LOW_VALUE_REALIZATION] * 2, y_range_name="ssr", line_color=LOW_COLOR, line_width=4)
p.line(DATE_SPAN, [HIGH_VALUE_REALIZATION] * 2, y_range_name="ssr", line_color=HIGH_COLOR, line_width=4)

# x axis
xa = p.xaxis[0]
xa.ticker = FixedTicker(ticks=YEARS)
xa.major_label_overrides = {y: str(y) for y in YEARS}
xa.axis_line_color = None
xa.major_tick_line_color = "#e3e3e8"
xa.major_tick_line_width = 1.5
xa.major_tick_out = 22
xa.major_tick_in = 0
xa.minor_tick_line_color = None
xa.major_label_standoff = 13
xa.major_label_text_font = FONT
xa.major_label_text_font_size = "24px"
xa.major_label_text_color = "#555555"

# left axis (price)
ya = p.yaxis[0]
ya.ticker = FixedTicker(ticks=PRICE_TICKS)
ya.major_label_overrides = dict(zip(PRICE_TICKS, PRICE_LABELS))
ya.axis_line_color = "#707070"
ya.axis_line_width = 3.5
ya.major_tick_line_color = None
ya.major_tick_out = 0
ya.major_tick_in = 0
ya.minor_tick_line_color = None
ya.minor_tick_out = 0
ya.major_label_standoff = 25
ya.major_label_text_font = FONT
ya.major_label_text_font_size = "22.5px"
ya.major_label_text_color = LABEL_COLOR

# right axis (ratio)
ra = LogAxis(y_range_name="ssr", ticker=FixedTicker(ticks=SSR_TICKS))
ra.major_label_overrides = dict(zip(SSR_TICKS, SSR_LABELS))
ra.axis_line_color = SSR_COLOR
ra.axis_line_width = 3.5
ra.major_tick_line_color = None
ra.major_tick_out = 0
ra.major_tick_in = 0
ra.minor_tick_line_color = None
ra.minor_tick_out = 0
ra.major_label_standoff = 21
ra.major_label_text_font = FONT
ra.major_label_text_font_size = "22px"
ra.major_label_text_color = LABEL_COLOR
p.add_layout(ra, "right")

# ---------------- footer ----------------
footer = blank(FOOTER_H)
footer.text(x=[65], y=[74], text=[FOOTER], text_font=value(FONT), text_font_size="32px",
            text_color="#8a8a8a", text_baseline="alphabetic")
footer.text(x=[2493], y=[72], text=[BRAND], text_font=value(FONT), text_font_size="62px",
            text_font_style="bold", text_color="#1a1a1a", text_align="right", text_baseline="alphabetic")

layout = column(header, p, footer, spacing=0)
open("out.html", "w").write(file_html(layout, INLINE, TITLE))
